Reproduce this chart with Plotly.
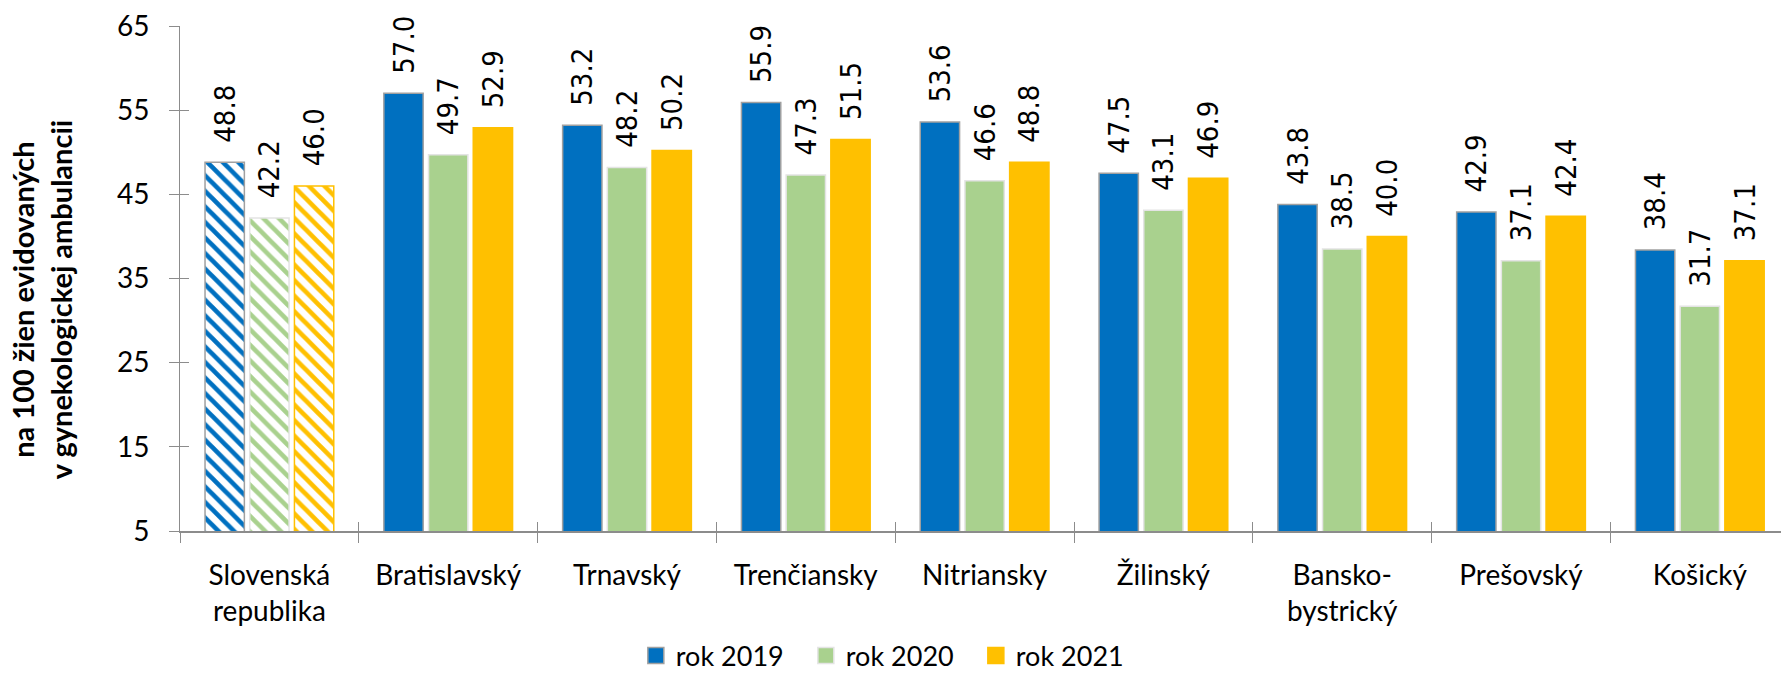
import plotly.graph_objects as go

categories = ["Slovenská<br>republika", "Bratislavský", "Trnavský", "Trenčiansky",
              "Nitriansky", "Žilinský", "Bansko-<br>bystrický", "Prešovský", "Košický"]
series_names = ["rok 2019", "rok 2020", "rok 2021"]
v2019 = [48.8, 57.0, 53.2, 55.9, 53.6, 47.5, 43.8, 42.9, 38.4]
v2020 = [42.2, 49.7, 48.2, 47.3, 46.6, 43.1, 38.5, 37.1, 31.7]
v2021 = [46.0, 52.9, 50.2, 51.5, 48.8, 46.9, 40.0, 42.4, 37.1]
y_ticks = [5, 15, 25, 35, 45, 55, 65]
y_title = "na 100 žien evidovaných<br>v gynekologickej ambulancii"

colors = ["#0070C0", "#A9D18E", "#FFC000"]
outlines = ["#A0A0A0", "#E4E4E4", "#FFC000"]
series = [v2019, v2020, v2021]

fig = go.Figure()
for name, vals, col, oc in zip(series_names, series, colors, outlines):
    shapes = ["\\"] + [""] * (len(vals) - 1)
    fig.add_trace(go.Bar(
        x=categories, y=vals, name=name, showlegend=False,
        marker=dict(color=col, line=dict(color=oc, width=1.5),
                    pattern=dict(shape=shapes, fgcolor=col, bgcolor="white",
                                 fillmode="replace", size=11, solidity=0.42)),
        text=["\u00a0\u00a0" + f"{v:.1f}" for v in vals],
        textposition="outside", textangle=-90, constraintext="none",
        textfont=dict(family="Liberation Sans Narrow, Arial Narrow, DejaVu Sans Condensed, sans-serif",
                      size=29, color="#000000"),
        cliponaxis=False, hoverinfo="skip",
    ))

# legend entries
for name, col, oc in zip(series_names, colors, outlines):
    fig.add_trace(go.Scatter(
        x=[None], y=[None], mode="markers", name=name,
        marker=dict(symbol="square", size=16, color=col, line=dict(color=oc, width=1.5)),
    ))

# overlay axes for inward ticks (crossing tick marks)
fig.add_trace(go.Scatter(x=categories, y=[None] * len(categories), xaxis="x2", yaxis="y2",
                         showlegend=False, hoverinfo="skip", mode="markers"))

axis_gray = "#8C8C8C"
x_range = [-0.5, 8.454]
fig.update_layout(
    width=1781, height=674,
    margin=dict(l=180, r=0, t=26, b=143, pad=0, autoexpand=False),
    paper_bgcolor="white", plot_bgcolor="white",
    barmode="group", bargap=0.25, bargroupgap=0.12,
    font=dict(family="Lato", color="#000000"),
    showlegend=True,
    legend=dict(orientation="h", x=0.444, xanchor="center",
                yref="container", y=0.0267, yanchor="middle",
                font=dict(family="Lato", size=27, color="#000000"),
                entrywidth=125, entrywidthmode="pixels", itemsizing="trace"),
    xaxis=dict(type="category", categoryorder="array", categoryarray=categories,
               range=x_range, showgrid=False, zeroline=False,
               showline=True, linecolor=axis_gray, linewidth=2,
               ticks="outside", tickson="boundaries", ticklen=10, tickcolor=axis_gray, tickwidth=1.3,
               tickfont=dict(family="Lato", size=28, color="#000000"), ticklabelstandoff=18),
    yaxis=dict(range=[5, 65], tickvals=y_ticks, showgrid=False, zeroline=False,
               showline=True, linecolor=axis_gray, linewidth=1,
               ticks="outside", ticklen=10, tickcolor=axis_gray, tickwidth=1.3,
               tickfont=dict(family="Lato", size=28, color="#000000"), ticklabelstandoff=14),
    xaxis2=dict(type="category", categoryorder="array", categoryarray=categories,
                overlaying="x", anchor="y2", side="bottom", range=x_range,
                showgrid=False, zeroline=False, showline=False, showticklabels=False,
                ticks="inside", tickson="boundaries", ticklen=9, tickcolor=axis_gray, tickwidth=1.3),
    yaxis2=dict(overlaying="y", anchor="x2", side="left", range=[5, 65], tickvals=y_ticks,
                showgrid=False, zeroline=False, showline=False, showticklabels=False,
                ticks="inside", ticklen=9, tickcolor=axis_gray, tickwidth=1.3),
    annotations=[dict(text="<b>" + y_title.replace("<br>", "</b><br><b>") + "</b>",
                      xref="paper", yref="paper", x=-0.0868, y=0.457,
                      xanchor="center", yanchor="middle", textangle=-90, showarrow=False,
                      font=dict(family="Lato", size=29, color="#000000"))],
)

fig.write_html("out.html", config={"displayModeBar": False},
               post_script="document.body.style.margin='0px';document.body.style.overflow='hidden';")
